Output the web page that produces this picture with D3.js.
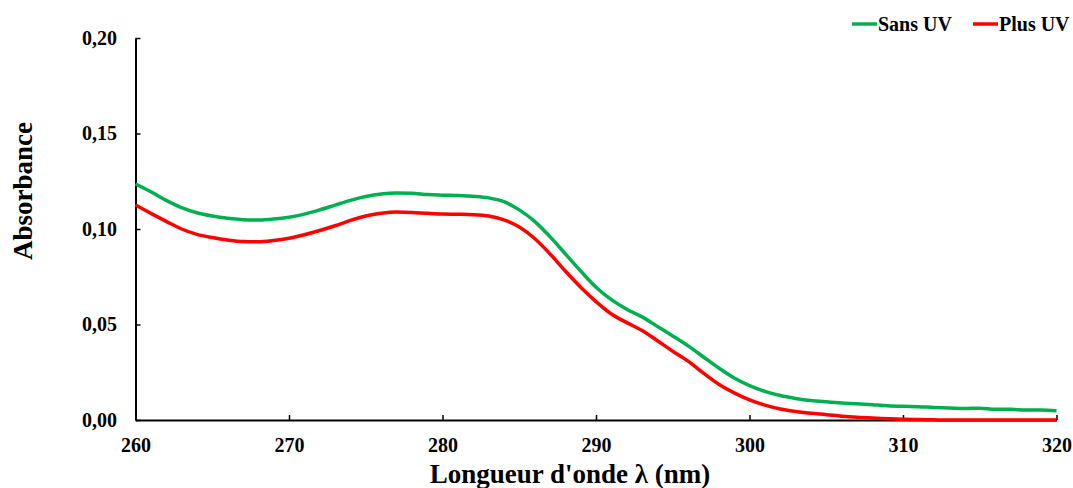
<!DOCTYPE html>
<html><head><meta charset="utf-8">
<script src="https://cdn.jsdelivr.net/npm/d3@7"></script>
<style>body{margin:0;background:#fff}svg{display:block}text{font-family:"Liberation Serif","Times New Roman",serif;font-weight:bold}</style>
</head><body><svg id="c" width="1073" height="488"></svg>
<script>
const wavelengths = d3.range(260, 321);
const sansUV = [0.1236,0.1195,0.1150,0.1112,0.1085,0.1068,0.1056,0.1049,0.1047,0.1052,
0.1062,0.1078,0.1100,0.1125,0.1150,0.1170,0.1183,0.1188,0.1187,0.1180,
0.1177,0.1175,0.1171,0.1163,0.1143,0.1100,0.1040,0.0960,0.0870,0.0780,
0.0695,0.0630,0.0580,0.0540,0.0490,0.0440,0.0388,0.0330,0.0272,0.0220,
0.0180,0.0150,0.0128,0.0113,0.0102,0.0095,0.0089,0.0085,0.0080,0.0075,
0.0072,0.0070,0.0066,0.0063,0.0060,0.0062,0.0056,0.0056,0.0052,0.0053,0.0049];
const plusUV = [0.1126,0.1082,0.1040,0.1000,0.0972,0.0955,0.0942,0.0934,0.0933,0.0940,
0.0952,0.0970,0.0992,0.1017,0.1045,0.1068,0.1082,0.1089,0.1087,0.1082,
0.1078,0.1077,0.1075,0.1068,0.1048,0.1010,0.0950,0.0870,0.0780,0.0695,
0.0620,0.0555,0.0510,0.0468,0.0415,0.0360,0.0308,0.0245,0.0187,0.0142,
0.0105,0.0078,0.0058,0.0045,0.0035,0.0028,0.0020,0.0014,0.0010,0.0007,
0.0004,0.0002,0.0001,0,0,0,0,0,0,0,0];
const xTicks = [260,270,280,290,300,310,320];
const yTicks = [0,0.05,0.10,0.15,0.20];
const seriesNames = ["Sans UV","Plus UV"];
const colors = ["#00B050","#FF0000"];

const svg = d3.select("#c");
const x = d3.scaleLinear().domain([260,320]).range([135.5,1056.5]);
const y = d3.scaleLinear().domain([0,0.20]).range([420,38]);
const fmt = d => d.toFixed(2).replace(".", ",");

const gx = svg.append("g").attr("transform","translate(0,420)")
  .call(d3.axisBottom(x).tickValues(xTicks).tickSizeInner(-5).tickSizeOuter(0).tickPadding(18));
const gy = svg.append("g").attr("transform","translate(135.5,0)")
  .call(d3.axisLeft(y).tickValues(yTicks).tickSizeInner(-5).tickSizeOuter(0).tickFormat(fmt).tickPadding(18.5));
[gx,gy].forEach(g=>{
  g.select(".domain").attr("stroke","#000").attr("stroke-width",2);
  g.selectAll(".tick line").attr("stroke","#000").attr("stroke-width",1.5);
  g.selectAll("text").attr("font-size",20).attr("fill","#000").style("font-family","Liberation Serif").style("font-weight","bold");
});

const line = d3.line().x((d,i)=>x(wavelengths[i])).y(d=>y(d)).curve(d3.curveMonotoneX);
[sansUV, plusUV].forEach((s,k)=>{
  svg.append("path").datum(s).attr("d",line).attr("fill","none")
    .attr("stroke",colors[k]).attr("stroke-width",3.5).attr("stroke-linejoin","round");
});

svg.append("text").attr("transform","translate(32,191) rotate(-90)")
  .attr("text-anchor","middle").attr("font-size",27).text("Absorbance");
svg.append("text").attr("x",570).attr("y",483).attr("text-anchor","middle")
  .attr("font-size",27).text("Longueur d'onde λ (nm)");

const legX = [852, 973];
seriesNames.forEach((n,k)=>{
  svg.append("line").attr("x1",legX[k]).attr("x2",legX[k]+25).attr("y1",24).attr("y2",24)
    .attr("stroke",colors[k]).attr("stroke-width",3.5);
  svg.append("text").attr("x",legX[k]+26).attr("y",30.5).attr("font-size",20).text(n);
});
</script></body></html>
